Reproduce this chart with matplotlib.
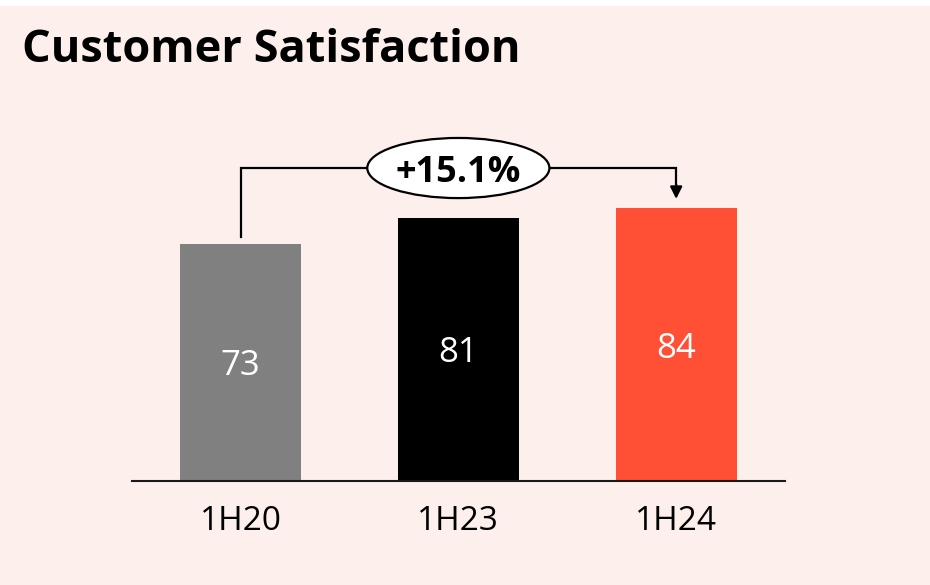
import matplotlib
matplotlib.use("Agg")
import matplotlib.pyplot as plt
from matplotlib.patches import Ellipse, Rectangle

categories = ["1H20", "1H23", "1H24"]
values = [73, 81, 84]
colors = ["#808080", "#000000", "#FF5035"]
growth_label = "+15.1%"
title = "Customer Satisfaction"

BG = "#FDEFEB"
FONT = ["Open Sans", "DejaVu Sans"]

fig = plt.figure(figsize=(9.3, 5.85), dpi=100, facecolor=BG)
fig.patches.append(Rectangle((0, 1 - 6 / 585), 1, 6 / 585, transform=fig.transFigure,
                             facecolor="white", edgecolor="none", zorder=0))
ax = fig.add_axes([131.6 / 930, 104 / 585, 653.5 / 930, 325 / 585])
ax.set_facecolor(BG)
ax.patch.set_alpha(0)

x = list(range(len(categories)))
bars = ax.bar(x, values, width=0.556, color=colors, zorder=2)
ax.set_xlim(-0.5, 2.5)
ax.set_ylim(0, 100)

for xi, v in zip(x, values):
    ax.text(xi, v / 2, f"{v}", color="white", ha="center", va="center_baseline",
            fontsize=25, family=FONT)

for s in ["top", "right", "left"]:
    ax.spines[s].set_visible(False)
ax.spines["bottom"].set_linewidth(1.5)
ax.spines["bottom"].set_color("#1a1a1a")
ax.set_yticks([])
ax.set_xticks(x)
ax.set_xticklabels(categories, fontsize=24, family=FONT)
ax.tick_params(axis="x", length=0, pad=17)

# growth bracket
y_top = max(values) + 12.3
y_start = values[0] + 2.1
y_tip = values[-1] + 2.8
ax.plot([x[0], x[0], x[-1], x[-1]], [y_start, y_top, y_top, y_tip + 4],
        color="black", lw=1.6, clip_on=False, zorder=3, solid_joinstyle="miter")
ax.annotate("", xy=(x[-1], y_tip), xytext=(x[-1], y_tip + 4.5),
            arrowprops=dict(arrowstyle="-|>", color="black", lw=1.6,
                            mutation_scale=18, shrinkA=0, shrinkB=0),
            annotation_clip=False, zorder=3)
ell = Ellipse((x[1], y_top), width=0.836, height=18.5, facecolor="white",
              edgecolor="black", lw=1.6, clip_on=False, zorder=4)
ax.add_patch(ell)
ax.text(x[1], y_top, growth_label, ha="center", va="center_baseline", fontsize=26,
        fontweight="bold", family=FONT, zorder=5)

fig.text(22 / 930, 1 - 28 / 585, title, ha="left", va="top", fontsize=32.5,
         fontweight="bold", family=FONT)

fig.savefig("out.png", dpi=100, facecolor=BG)
